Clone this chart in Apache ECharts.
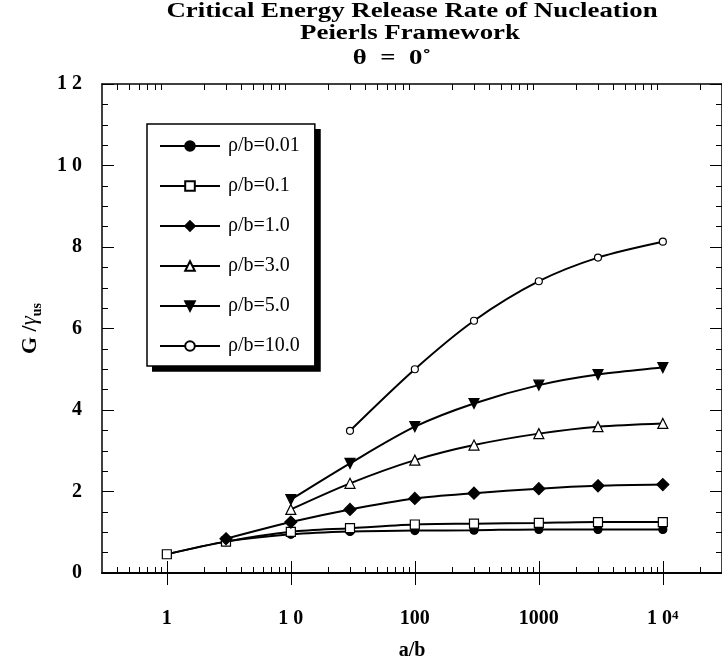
<!DOCTYPE html>
<html><head><meta charset="utf-8">
<script src="https://cdn.jsdelivr.net/npm/echarts@6/dist/echarts.min.js"></script>
<style>html,body{margin:0;padding:0;background:#fff}#c{width:722px;height:669px}</style>
</head><body><div id="c"></div>
<script>
// ---- data ----
const aOverB = [1, 3, 10, 30, 100, 300, 1000, 3000, 10000];
const seriesNames = ['ρ/b=0.01', 'ρ/b=0.1', 'ρ/b=1.0', 'ρ/b=3.0', 'ρ/b=5.0', 'ρ/b=10.0'];
const rho001 = [0.46, 0.77, 0.95, 1.02, 1.04, 1.05, 1.07, 1.07, 1.07];
const rho01  = [0.46, 0.77, 1.01, 1.10, 1.19, 1.21, 1.23, 1.25, 1.25];
const rho1   = [null, 0.84, 1.25, 1.56, 1.83, 1.96, 2.07, 2.14, 2.17];
const rho3   = [null, null, 1.56, 2.20, 2.77, 3.14, 3.42, 3.59, 3.67];
const rho5   = [null, null, 1.80, 2.69, 3.59, 4.16, 4.61, 4.87, 5.04];
const rho10  = [null, null, null, 3.49, 5.00, 6.19, 7.16, 7.74, 8.13];
const xMajorTicks = [1, 10, 100, 1000, 10000];
const xTickLabels = ['1', '1 0', '100', '1000', '{n|1 0}{s|4}'];
const yTickValues = [0, 2, 4, 6, 8, 10, 12];
const yTickLabels = ['0', '2', '4', '6', '8', '1 0', '1 2'];
const titleLines = ['Critical Energy Release Rate of Nucleation', 'Peierls Framework', 'θ  =  0˚'];

// minor log ticks (axis decoration)
const xMinorTicks = [];
[0.1, 1, 10, 100, 1000, 10000].forEach(d => {
  for (let k = 2; k <= 9; k++) {
    const v = +(k * d).toPrecision(6);
    if (v > 0.3 && v < 30000) xMinorTicks.push(v);
  }
});

const serif = '"Liberation Serif", "Times New Roman", serif';
const allVals = [rho001, rho01, rho1, rho3, rho5, rho10];
const symbols = [
  {symbol: 'circle', size: 8, fill: '#000'},
  {symbol: 'rect', size: 9, fill: '#fff'},
  {symbol: 'diamond', size: 12, fill: '#000'},
  {symbol: 'triangle', size: 10, fill: '#fff'},
  {symbol: 'path://M0,0L10,0L5,9Z', size: 10, fill: '#000'},
  {symbol: 'circle', size: 7, fill: '#fff'}
];

const series = seriesNames.map((name, i) => ({
  name,
  type: 'line',
  xAxisIndex: 0, yAxisIndex: 0,
  data: aOverB.map((x, j) => [x, allVals[i][j]]).filter(p => p[1] !== null),
  smooth: 0.3,
  symbol: symbols[i].symbol,
  symbolSize: symbols[i].size,
  showAllSymbol: true,
  lineStyle: {color: '#000', width: 2},
  itemStyle: {color: symbols[i].fill, borderColor: '#000', borderWidth: 1.2, opacity: 1},
  emphasis: {disabled: true},
  z: 3 + i
}));

function xAxisBase(extra) {
  return Object.assign({
    type: 'log', logBase: 10, min: 0.3, max: 30000,
    axisLine: {show: true, lineStyle: {color: '#000', width: 1.5}},
    splitLine: {show: false},
    axisLabel: {show: false},
    axisTick: {show: true, inside: true, length: 12, lineStyle: {color: '#000', width: 1}, customValues: xMajorTicks}
  }, extra);
}
function yAxisBase(extra) {
  return Object.assign({
    type: 'value', min: 0, max: 12, interval: 2,
    axisLine: {show: true, lineStyle: {color: '#000', width: 1.5}},
    splitLine: {show: false},
    axisLabel: {show: false},
    axisTick: {show: true, inside: true, length: 12, lineStyle: {color: '#000', width: 1}},
    minorTick: {show: true, splitNumber: 4, length: 6, lineStyle: {color: '#000', width: 1}},
    minorSplitLine: {show: false}
  }, extra);
}

const legendBox = {left: 147, top: 124, width: 168, height: 242};

const option = {
  animation: false,
  backgroundColor: '#fff',
  graphic: titleLines.map((t, i) => ({
    type: 'text',
    x: [412, 410, 392][i],
    y: [11, 33, 58][i],
    scaleX: 1.22,
    style: {text: t, font: 'bold 22px ' + serif, fill: '#000', align: 'center', verticalAlign: 'middle', textAlign: 'center', textVerticalAlign: 'middle'}
  })).concat([{
    type: 'rect', z: 1,
    shape: {x: legendBox.left + 5, y: legendBox.top + 5, width: legendBox.width + 0.75, height: legendBox.height + 0.75},
    style: {fill: '#000'}
  }]),
  grid: {left: 102, top: 84, right: -5, bottom: 96, containLabel: false},
  legend: {
    orient: 'vertical',
    left: legendBox.left, top: legendBox.top,
    padding: [12, 15, 10, 12],
    itemWidth: 60, itemHeight: 12, itemGap: 20,
    backgroundColor: '#fff',
    borderColor: '#000', borderWidth: 1.5,
    z: 10,
    textStyle: {fontFamily: serif, fontSize: 20, color: '#000', lineHeight: 20, padding: [0, 0, 0, 3]},
    data: seriesNames,
    selectedMode: false
  },
  xAxis: [
    xAxisBase({
      position: 'bottom',
      name: 'a/b', nameLocation: 'middle', nameGap: 68,
      nameTextStyle: {fontFamily: serif, fontWeight: 'bold', fontSize: 20, color: '#000'},
      axisLabel: {
        show: true, margin: 36, customValues: xMajorTicks,
        fontFamily: serif, fontWeight: 'bold', fontSize: 20, color: '#000',
        formatter: v => {
          const idx = xMajorTicks.findIndex(t => Math.abs(Math.log10(t) - Math.log10(v)) < 1e-6);
          return idx >= 0 ? xTickLabels[idx] : '';
        },
        rich: {
          n: {fontFamily: serif, fontWeight: 'bold', fontSize: 20, color: '#000', lineHeight: 20},
          s: {fontFamily: serif, fontWeight: 'bold', fontSize: 13, color: '#000', lineHeight: 13, verticalAlign: 'top'}
        }
      }
    }),
    xAxisBase({position: 'top'}),
    xAxisBase({position: 'bottom', axisTick: {show: true, inside: true, length: 6, lineStyle: {color: '#000', width: 1}, customValues: xMinorTicks}}),
    xAxisBase({position: 'top', axisTick: {show: true, inside: true, length: 6, lineStyle: {color: '#000', width: 1}, customValues: xMinorTicks}})
  ],
  yAxis: [
    yAxisBase({
      position: 'left',
      name: '{g|G /}{y|γ}{s|us}', nameLocation: 'middle', nameGap: 58, nameRotate: 90,
      nameTextStyle: {
        color: '#000',
        rich: {
          g: {fontFamily: serif, fontWeight: 'bold', fontSize: 22, color: '#000', lineHeight: 28},
          y: {fontFamily: serif, fontStyle: 'italic', fontSize: 23, color: '#000', lineHeight: 28},
          s: {fontFamily: serif, fontWeight: 'bold', fontSize: 14, color: '#000', lineHeight: 14, verticalAlign: 'bottom'}
        }
      },
      axisLabel: {
        show: true, margin: 20,
        fontFamily: serif, fontWeight: 'bold', fontSize: 20, color: '#000',
        formatter: v => {
          const idx = yTickValues.indexOf(Math.round(v));
          return idx >= 0 ? yTickLabels[idx] : '';
        }
      }
    }),
    yAxisBase({position: 'right'})
  ],
  series
};

const chart = echarts.init(document.getElementById('c'), null, {renderer: 'canvas'});
chart.setOption(option);
</script>
</body></html>
